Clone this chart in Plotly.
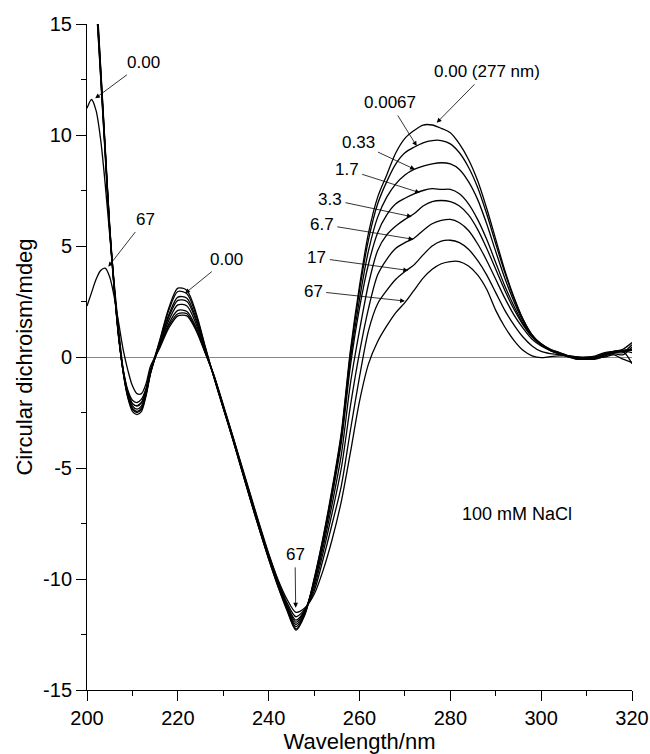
import plotly.graph_objects as go

# Wavelength grid (nm)
wavelength = [200, 201, 202, 203, 204, 205, 206, 207, 208, 209, 210, 211, 212, 213, 214,
              216, 218, 220, 222, 224, 226,
              228, 230, 232, 234, 236, 238, 240, 242, 244, 246, 248, 250, 252, 254, 256,
              258, 260, 262, 264, 266, 268, 270, 272, 274, 276, 278, 280, 282, 284, 286, 288,
              290, 292, 294, 296, 298, 300, 302, 304, 306, 308, 310, 312, 314, 316, 318, 320]

# Series labels (concentration)
series_names = ["0.00", "0.0067", "0.33", "1.7", "3.3", "6.7", "17", "67"]

cd_000 = [11.2, 11.6, 11.1, 9.8, 7.8, 5.5, 3.3, 1.2, -0.6, -1.6, -2.1, -2.2, -2.05, -1.5, -0.65,
          0.75, 2.2, 3.1, 3.0, 2.0, 0.5,
          -0.95, -2.3, -3.65, -5.05, -6.45, -7.8, -9.1, -10.3, -11.4, -12.3, -11.6, -10.0, -8.1, -5.9, -3.4,
          0.3, 3.2, 5.6, 7.2, 8.2, 9.2, 9.85, 10.2, 10.45, 10.45, 10.3, 10.1, 9.6, 8.9, 7.95, 6.7,
          5.3, 3.9, 2.7, 1.7, 1.0, 0.55, 0.3, 0.15, 0.05, -0.05, -0.1, -0.05, 0.1, 0.2, 0.2, 0.55]

cd_0067 = [23.2, 20.2, 16.7, 13.1, 9.5, 5.9, 3.2, 0.95, -0.75, -1.85, -2.45, -2.6, -2.45, -1.75, -0.75,
           0.7, 2.1, 2.95, 2.85, 1.9, 0.45,
           -0.95, -2.3, -3.65, -5.05, -6.45, -7.8, -9.1, -10.3, -11.35, -12.25, -11.55, -10.05, -8.15, -6.0, -3.5,
           0.15, 3.0, 5.3, 6.9, 7.9, 8.7, 9.2, 9.45, 9.65, 9.75, 9.75, 9.6, 9.2, 8.55, 7.65, 6.45,
           5.1, 3.8, 2.65, 1.7, 1.0, 0.6, 0.35, 0.2, 0.05, -0.05, -0.05, 0.0, 0.15, 0.25, 0.3, 0.3]

cd_033 = [23.0, 20.0, 16.5, 13.0, 9.4, 5.85, 3.15, 0.9, -0.7, -1.8, -2.35, -2.5, -2.35, -1.7, -0.7,
          0.65, 1.9, 2.7, 2.65, 1.75, 0.4,
          -0.95, -2.3, -3.6, -5.0, -6.4, -7.75, -9.05, -10.25, -11.3, -12.15, -11.5, -10.1, -8.25, -6.1, -3.65,
          -0.1, 2.6, 4.8, 6.3, 7.2, 7.8, 8.2, 8.45, 8.6, 8.7, 8.75, 8.7, 8.45, 7.9, 7.1, 6.0,
          4.75, 3.55, 2.5, 1.6, 0.95, 0.6, 0.35, 0.2, 0.05, -0.1, -0.1, -0.05, 0.1, 0.2, 0.25, -0.3]

cd_17 = [22.8, 19.8, 16.4, 12.9, 9.35, 5.8, 3.1, 0.9, -0.7, -1.75, -2.3, -2.45, -2.3, -1.65, -0.7,
         0.6, 1.8, 2.55, 2.5, 1.65, 0.35,
         -0.9, -2.25, -3.6, -5.0, -6.4, -7.75, -9.0, -10.2, -11.25, -12.05, -11.45, -10.15, -8.35, -6.25, -3.85,
         -0.4, 2.2, 4.2, 5.6, 6.4, 6.9, 7.15, 7.35, 7.5, 7.58, 7.55, 7.55, 7.35, 6.9, 6.2, 5.3,
         4.25, 3.2, 2.3, 1.5, 0.95, 0.55, 0.3, 0.15, 0.0, -0.1, -0.1, -0.1, 0.05, 0.15, 0.1, 0.45]

cd_33 = [22.6, 19.7, 16.3, 12.8, 9.3, 5.75, 3.1, 0.85, -0.7, -1.7, -2.2, -2.35, -2.2, -1.6, -0.65,
         0.55, 1.65, 2.35, 2.3, 1.5, 0.3,
         -0.9, -2.25, -3.55, -4.95, -6.35, -7.7, -9.0, -10.15, -11.2, -11.95, -11.4, -10.25, -8.55, -6.6, -4.4,
         -1.2, 1.2, 3.3, 4.8, 5.5, 5.9, 6.2, 6.45, 6.8, 7.0, 7.05, 7.0, 6.8, 6.4, 5.75, 4.9,
         3.95, 3.0, 2.15, 1.45, 0.9, 0.55, 0.3, 0.15, 0.05, -0.05, -0.1, -0.05, 0.0, 0.1, -0.1, -0.25]

cd_67 = [22.4, 19.5, 16.1, 12.7, 9.2, 5.7, 3.05, 0.85, -0.65, -1.6, -2.1, -2.2, -2.05, -1.5, -0.6,
         0.5, 1.5, 2.1, 2.05, 1.35, 0.25,
         -0.9, -2.2, -3.55, -4.95, -6.3, -7.65, -8.95, -10.1, -11.15, -11.85, -11.4, -10.4, -8.8, -7.0, -5.0,
         -2.2, 0.2, 2.2, 3.7, 4.4, 4.9, 5.15, 5.35, 5.7, 6.0, 6.15, 6.2, 6.05, 5.7, 5.1, 4.35,
         3.5, 2.65, 1.9, 1.3, 0.8, 0.5, 0.3, 0.15, 0.0, -0.1, -0.05, 0.0, 0.1, 0.2, 0.25, 0.2]

cd_17mm = [22.2, 19.3, 16.0, 12.6, 9.1, 5.65, 3.0, 0.8, -0.6, -1.5, -1.95, -2.05, -1.9, -1.4, -0.55,
           0.45, 1.4, 1.95, 1.95, 1.25, 0.2,
           -0.85, -2.2, -3.5, -4.9, -6.25, -7.6, -8.9, -10.05, -11.05, -11.7, -11.35, -10.55, -9.1, -7.5, -5.8,
           -3.3, -0.9, 1.2, 2.4, 3.0, 3.5, 3.85, 4.15, 4.6, 5.0, 5.22, 5.26, 5.15, 4.85, 4.35, 3.7,
           2.9, 2.1, 1.45, 0.9, 0.5, 0.25, 0.15, 0.1, 0.05, 0.0, -0.05, 0.0, 0.15, 0.25, 0.35, 0.65]

cd_67mm = [2.3, 2.9, 3.5, 3.9, 4.0, 3.6, 2.7, 1.5, 0.3, -0.6, -1.3, -1.65, -1.65, -1.2, -0.4,
           0.4, 1.3, 1.85, 1.85, 1.2, 0.2,
           -0.85, -2.15, -3.5, -4.85, -6.2, -7.55, -8.85, -10.0, -10.9, -11.5, -11.3, -10.7, -9.6, -8.2, -6.5,
           -4.3, -2.0, -0.3, 0.7, 1.4, 2.0, 2.45, 3.0, 3.55, 3.95, 4.2, 4.3, 4.3, 4.1, 3.7, 3.05,
           2.1, 1.35, 0.75, 0.3, 0.05, -0.03, 0.02, 0.05, 0.05, 0.0, 0.0, 0.05, 0.2, 0.25, 0.3, 0.35]

all_series = [cd_000, cd_0067, cd_033, cd_17, cd_33, cd_67, cd_17mm, cd_67mm]

x_ticks = [200, 220, 240, 260, 280, 300, 320]
y_ticks = [-15, -10, -5, 0, 5, 10, 15]
y_tick_text = ["-15", "-10", "-5", "0", "5", "10", "15"]

FONT = "Liberation Sans, Arial, sans-serif"

fig = go.Figure()
for name, vals in zip(series_names, all_series):
    fig.add_trace(go.Scatter(
        x=wavelength, y=vals, mode="lines", name=name,
        line=dict(color="black", width=1.3, shape="spline", smoothing=0.8),
        showlegend=False, hoverinfo="skip"))

# (label, arrow head x, y, text x, y)
ann_specs = [
    ("0.00", 201.8, 11.65, 212.4, 13.26),
    ("67", 204.7, 4.07, 212.8, 6.2),
    ("0.00", 221.6, 2.87, 230.8, 4.4),
    ("67", 245.95, -11.29, 245.8, -8.89),
    ("0.00 (277 nm)", 277.0, 10.55, 288.0, 12.84),
    ("0.0067", 272.6, 9.5, 266.7, 11.45),
    ("0.33", 272.2, 8.45, 259.7, 9.65),
    ("1.7", 273.3, 7.4, 257.2, 8.45),
    ("3.3", 271.5, 6.32, 253.5, 7.1),
    ("6.7", 271.85, 5.3, 251.7, 5.98),
    ("17", 270.7, 3.9, 250.6, 4.47),
    ("67", 270.0, 2.52, 249.8, 2.97),
]
annotations = []
for txt, hx, hy, tx, ty in ann_specs:
    annotations.append(dict(
        x=hx, y=hy, ax=tx, ay=ty, xref="x", yref="y", axref="x", ayref="y",
        text=txt, showarrow=True, arrowhead=2, arrowsize=1.2, arrowwidth=0.8,
        arrowcolor="black", font=dict(family=FONT, size=17, color="black"),
        standoff=0, startstandoff=2))
annotations.append(dict(x=294.6, y=-7.07, xref="x", yref="y", text="100 mM NaCl",
                        showarrow=False, font=dict(family=FONT, size=18, color="black")))

fig.update_layout(
    template="none",
    width=650, height=754,
    margin=dict(l=87, r=18, t=24, b=64, autoexpand=False),
    paper_bgcolor="white", plot_bgcolor="white",
    font=dict(family=FONT, color="black"),
    annotations=annotations,
    xaxis=dict(
        range=[200, 320], tickvals=x_ticks, ticks="outside", ticklen=10, tickwidth=1,
        tickcolor="black", showline=True, linecolor="black", linewidth=1, automargin=False,
        showgrid=False, zeroline=False, tickfont=dict(size=20, family=FONT),
        minor=dict(dtick=10, ticks="outside", ticklen=5, tickcolor="black", showgrid=False),
        title=dict(text="Wavelength/nm", font=dict(size=22, family=FONT), standoff=8),
    ),
    yaxis=dict(
        range=[-15, 15], tickvals=y_ticks, ticktext=y_tick_text, ticks="outside", ticklen=10,
        tickwidth=1, tickcolor="black", showline=True, linecolor="black", linewidth=1,
        automargin=False, showgrid=False, zeroline=True, zerolinecolor="#888888",
        zerolinewidth=1, tickfont=dict(size=20, family=FONT),
        minor=dict(dtick=2.5, ticks="outside", ticklen=5, tickcolor="black", showgrid=False),
        title=dict(text="Circular dichroism/mdeg", font=dict(size=22, family=FONT), standoff=4),
    ),
)

fig.write_html("out.html", config={"displayModeBar": False},
               post_script="document.body.style.margin='0';document.body.style.overflow='hidden';")
